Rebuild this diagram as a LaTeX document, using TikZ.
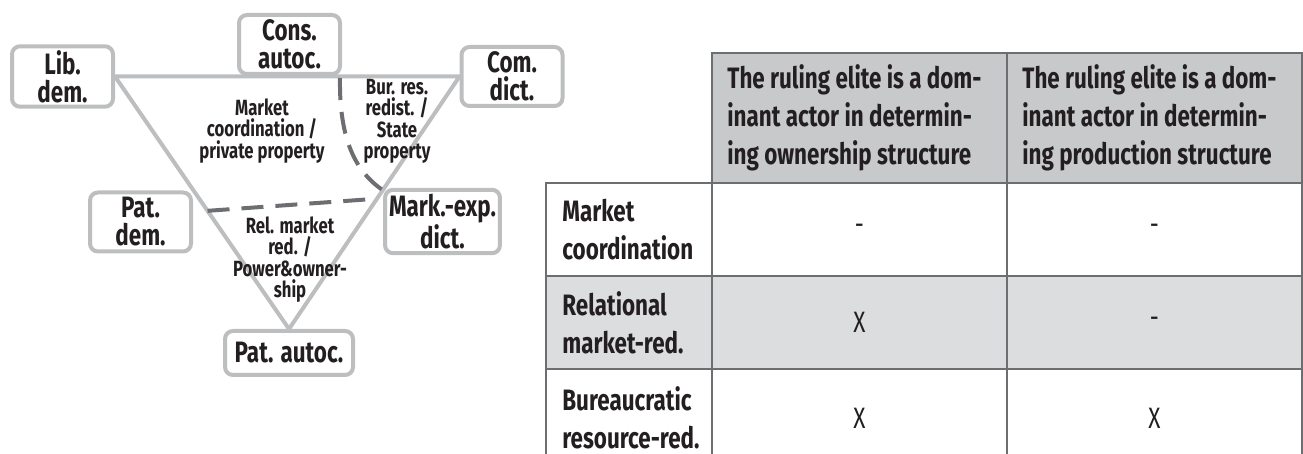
\documentclass[tikz,border=0pt]{standalone}
\usepackage{fontspec}
\setmainfont{Fira Sans}[FakeStretch=0.76]
\usepackage{xcolor}
\usetikzlibrary{calc, backgrounds}
\definecolor{BoxGray}{HTML}{BCBEC0}
\definecolor{DashGray}{HTML}{6D6E71}
\definecolor{RuleGray}{HTML}{6D6E71}
\definecolor{HeadGray}{HTML}{C8C9CB}
\definecolor{RowGray}{HTML}{DCDDDF}
\definecolor{InkBlack}{HTML}{231F20}

\begin{document}
\begin{tikzpicture}[x=0.5pt, y=-0.5pt,
    regime/.style={draw=BoxGray, line width=2pt, rounded corners=4pt, fill=white, align=center,
        inner xsep=2pt, inner ysep=2pt, minimum width=50.5pt, minimum height=29.5pt,
        font=\bfseries\fontsize{14.75}{14}\selectfont, text=InkBlack},
    zone/.style={align=center, inner sep=0pt, font=\bfseries\fontsize{11}{10.75}\selectfont, text=InkBlack},
    side/.style={BoxGray, line width=2pt},
    border/.style={DashGray, line width=2pt, dash pattern=on 11pt off 6pt},
    rule/.style={RuleGray, line width=0.75pt},
    cellhead/.style={anchor=west, align=left, inner sep=0pt, font=\bfseries\fontsize{14.75}{19}\selectfont, text=InkBlack},
    cellval/.style={font=\fontsize{14.75}{19}\selectfont, text=InkBlack}]

    \useasboundingbox (0,0) rectangle (1303,454);

    % Regime boxes
    \node[regime] (lib) at (62.5,76.5) {Lib.\\dem.};
    \node[regime] (cons) at (289.5,44.5) {Cons.\\autoc.};
    \node[regime] (com) at (512,76.5) {Com.\\dict.};
    \node[regime] (patdem) at (140.5,222) {Pat.\\dem.};
    \node[regime] (markexp) at (442.5,221.5) {Mark.-exp.\\dict.};
    \node[regime, minimum width=64pt, minimum height=22pt] (patautoc) at (289,353) {Pat. autoc.};

    % Triangle and zone borders
    \begin{pgfonlayer}{background}
        \draw[side] (lib.east) -- (com.west) -- (patautoc.north) -- cycle;
    \end{pgfonlayer}
    \coordinate (dl) at ($(lib.east)!0.532!(patautoc.north)$);
    \coordinate (dr) at ($(com.west)!0.484!(patautoc.north)$);
    \coordinate (cs) at (340,78);
    \coordinate (ce) at ($(com.west)!0.45!(patautoc.north)$);
    \draw[border] (dl) -- (dr);
    \draw[border] (cs) .. controls (339,140) and (356,172) .. (ce);

    % Zone labels
    \node[zone] (mkt) at (262,131) {Market\\coordination /\\private property};
    \node[zone] (bur) at (397,121.5) {Bur. res.\\redist. /\\State\\property};
    \node[zone] (rel) at (290,259.5) {Rel. market\\red. /\\Power\&owner-\\ship};

    % Table shading
    \fill[HeadGray] (712,53) rectangle (1302,183);
    \fill[RowGray] (546,276) rectangle (1302,369);

    % Table rules
    \draw[rule] (712,454) -- (712,53) -- (1302,53) -- (1302,454);
    \draw[rule] (1007,53) -- (1007,454);
    \draw[rule] (546,454) -- (546,183) -- (1302,183);
    \foreach \y in {276,369} \draw[rule] (546,\y) -- (1302,\y);

    % Table header
    \node[cellhead] (own) at (727,118) {The ruling elite is a dom-\\inant actor in determin-\\ing ownership structure};
    \node[cellhead] (prod) at (1022,118) {The ruling elite is a dom-\\inant actor in determin-\\ing production structure};

    % Row labels
    \node[cellhead] (mc) at (562,229.5) {Market\\coordination};
    \node[cellhead] (rm) at (562,322.5) {Relational\\market-red.};
    \node[cellhead] (br) at (562,418) {Bureaucratic\\resource-red.};

    % Cell values
    \foreach \name/\x/\y/\val in {mcown/859.5/229.5/-, mcprod/1154.5/229.5/-,
        rmown/859.5/322.5/X, rmprod/1154.5/322.5/-,
        brown/859.5/418/X, brprod/1154.5/418/X}
        \node[cellval] (\name) at (\x,\y) {\val};
\end{tikzpicture}
\end{document}
